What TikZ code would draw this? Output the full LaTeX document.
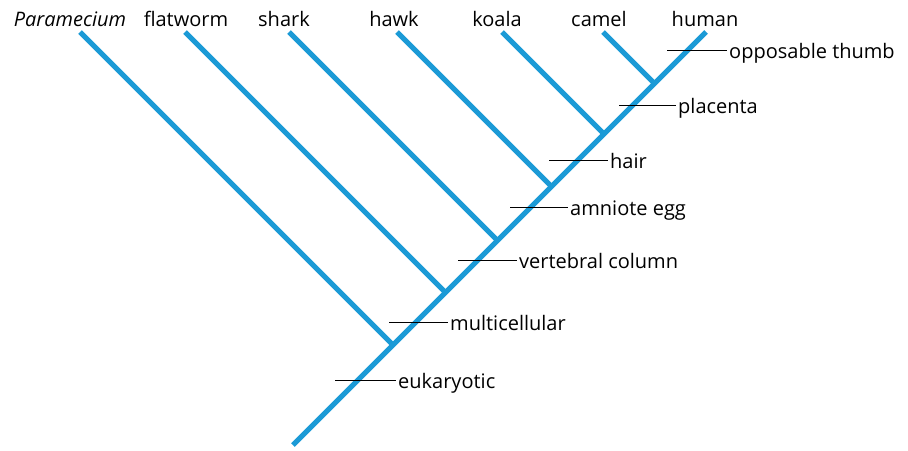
\documentclass[tikz,border=0pt]{standalone}
\usepackage{fontspec}
\setmainfont{Open Sans}
\definecolor{cladeblue}{RGB}{27,154,214}
\begin{document}
\begin{tikzpicture}[x=1pt,y=-1pt,
  branch/.style={draw=cladeblue,line width=5pt},
  tick/.style={draw=black,line width=0.9pt},
  taxon/.style={anchor=base,inner sep=0pt,font=\fontsize{20}{23}\selectfont},
  trait/.style={anchor=base west,inner xsep=2pt,inner ysep=0pt,font=\fontsize{20}{23}\selectfont}]
\useasboundingbox (0,0) rectangle (908,450);
% trunk
\coordinate (root) at (293,445);
\coordinate (tH) at (706,32);
% tips
\coordinate (tP) at (80,32);
\coordinate (tF) at (185,32);
\coordinate (tS) at (289,32);
\coordinate (tW) at (397,32);
\coordinate (tK) at (502,32);
\coordinate (tC) at (603,32);
% junctions on trunk
\coordinate (jP) at (393,345);
\coordinate (jF) at (445.5,292.5);
\coordinate (jS) at (497.5,240.5);
\coordinate (jW) at (551.5,186.5);
\coordinate (jK) at (604,134);
\coordinate (jC) at (654.5,83.5);
\path[branch] (root) -- (tH);
\path[branch] (tP) -- (jP);
\path[branch] (tF) -- (jF);
\path[branch] (tS) -- (jS);
\path[branch] (tW) -- (jW);
\path[branch] (tK) -- (jK);
\path[branch] (tC) -- (jC);
% taxon labels
\node[taxon] (nP) at (70,26) {\itshape Paramecium};
\node[taxon] (nF) at (186,26) {flatworm};
\node[taxon] (nS) at (284,26) {shark};
\node[taxon] (nW) at (394,26) {hawk};
\node[taxon] (nK) at (497,26) {koala};
\node[taxon] (nC) at (599,26) {camel};
\node[taxon] (nH) at (705,26) {human};
% trait ticks
\coordinate (a1) at (667,50);
\coordinate (a2) at (619,105);
\coordinate (a3) at (549,160);
\coordinate (a4) at (510,207);
\coordinate (a5) at (458,260);
\coordinate (a6) at (389,322);
\coordinate (a7) at (335,380);
\node[trait] (l1) at (727,58) {opposable thumb};
\node[trait] (l2) at (676,113) {placenta};
\node[trait] (l3) at (608,168) {hair};
\node[trait] (l4) at (568,215) {amniote egg};
\node[trait] (l5) at (517,268) {vertebral column};
\node[trait] (l6) at (448,330) {multicellular};
\node[trait] (l7) at (396,388) {eukaryotic};
\path[tick] (a1) -- (a1 -| l1.west);
\path[tick] (a2) -- (a2 -| l2.west);
\path[tick] (a3) -- (a3 -| l3.west);
\path[tick] (a4) -- (a4 -| l4.west);
\path[tick] (a5) -- (a5 -| l5.west);
\path[tick] (a6) -- (a6 -| l6.west);
\path[tick] (a7) -- (a7 -| l7.west);
\end{tikzpicture}
\end{document}
